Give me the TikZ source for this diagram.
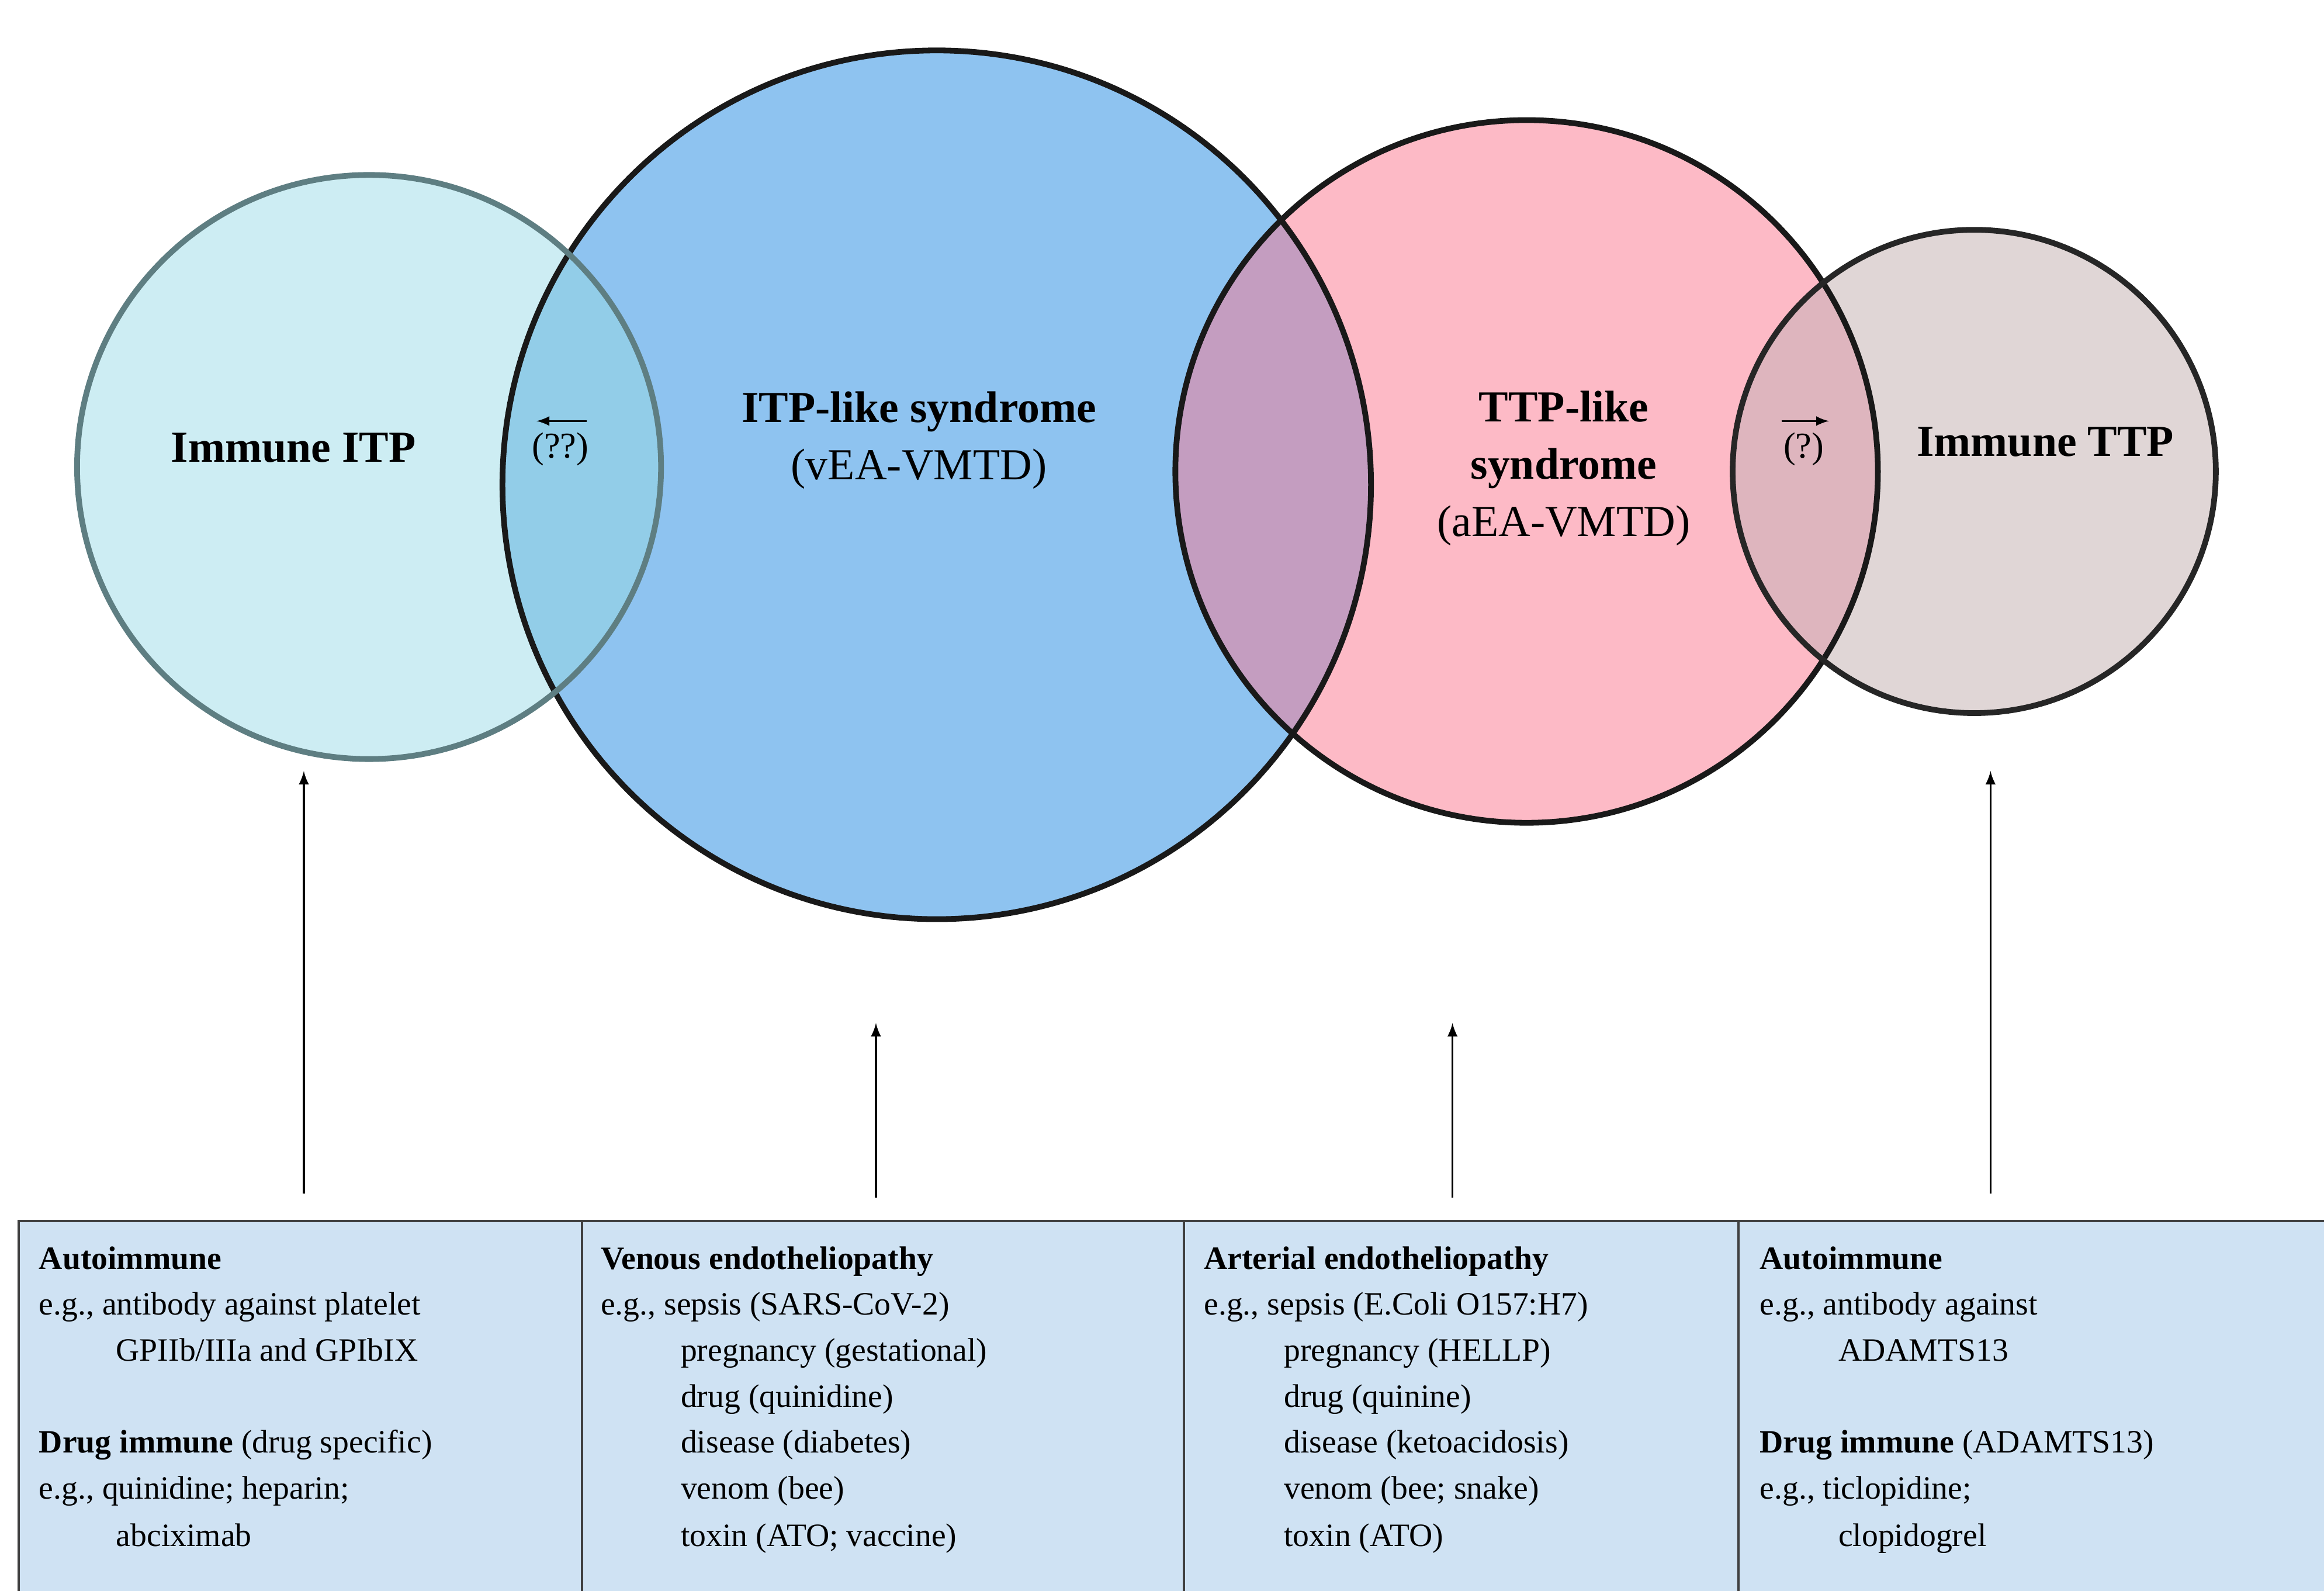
\documentclass[tikz,border=0pt]{standalone}
\usepackage{fontspec}
\setmainfont{Liberation Serif}
\begin{document}
\begin{tikzpicture}[x=0.02cm,y=-0.02cm,
  circ/.style={line width=2.2pt},
  box/.style={draw=black!75,line width=0.9pt,fill=boxc},
  t/.style={anchor=base west,inner sep=0pt,font=\fontsize{12.5}{15}\selectfont},
  lab/.style={align=center,font=\fontsize{17}{22}\selectfont},
  arr/.style={-latex,line width=0.8pt}]
\definecolor{itpc}{HTML}{CDEDF3}
\definecolor{itplc}{HTML}{8EC3F0}
\definecolor{ttplc}{HTML}{FDBAC6}
\definecolor{ittpc}{HTML}{E0D6D6}
\definecolor{ov1}{HTML}{92CDE8}
\definecolor{ov2}{HTML}{C49DC0}
\definecolor{ov3}{HTML}{DEB5BE}
\definecolor{boxc}{HTML}{CFE2F3}
\useasboundingbox (0,0) rectangle (1568,1073);
% circles fills
\fill[itpc] (249,315) circle (197);
\fill[itplc] (632,327) circle (293);
\fill[ttplc] (1030,318) circle (237);
\fill[ittpc] (1332,318) circle (163);
\begin{scope}\clip (249,315) circle (197); \fill[ov1] (632,327) circle (293);\end{scope}
\begin{scope}\clip (632,327) circle (293); \fill[ov2] (1030,318) circle (237);\end{scope}
\begin{scope}\clip (1030,318) circle (237); \fill[ov3] (1332,318) circle (163);\end{scope}
\draw[circ,draw=black!90] (632,327) circle (293);
\draw[circ,draw=black!90] (1030,318) circle (237);
\draw[circ,draw=black!85] (1332,318) circle (163);
\draw[circ,draw={rgb,255:red,94;green,126;blue,130}] (249,315) circle (197);
% labels
\node[lab] (itp) at (198,302) {\textbf{Immune ITP}};
\node[lab] (itpl) at (620,297) {\textbf{ITP-like syndrome}\\(vEA-VMTD)};
\node[lab] (ttpl) at (1055,316) {\textbf{TTP-like}\\\textbf{syndrome}\\(aEA-VMTD)};
\node[lab] (ittp) at (1380,298) {\textbf{Immune TTP}};
\node[font=\fontsize{14}{16}\selectfont] (q2) at (378,303) {(??)};
\node[font=\fontsize{14}{16}\selectfont] (q1) at (1217,303) {(?)};
\coordinate (a1s) at (396,284); \coordinate (a1e) at (362,284);
\coordinate (a2s) at (1202,284); \coordinate (a2e) at (1234,284);
\draw[-latex,line width=0.7pt] (a1s) -- (a1e);
\draw[-latex,line width=0.7pt] (a2s) -- (a2e);
% boxes
\node[box,minimum width=371,minimum height=234,anchor=north west,inner sep=0pt] (b1) at (12,823) {};
\node[box,minimum width=396,minimum height=234,anchor=north west,inner sep=0pt] (b2) at (392,823) {};
\node[box,minimum width=392,minimum height=234,anchor=north west,inner sep=0pt] (b3) at (798,823) {};
\node[box,minimum width=383,minimum height=234,anchor=north west,inner sep=0pt] (b4) at (1172,823) {};
% arrows
\coordinate (s1) at (205,805); \coordinate (e1) at (205,520);
\coordinate (s2) at (591,808); \coordinate (e2) at (591,690);
\coordinate (s3) at (980,808); \coordinate (e3) at (980,690);
\coordinate (s4) at (1343,805); \coordinate (e4) at (1343,520);
\draw[arr] (s1) -- (e1);
\draw[arr] (s2) -- (e2);
\draw[arr] (s3) -- (e3);
\draw[arr] (s4) -- (e4);
% box 1
\node[t] at (26,856) {\textbf{Autoimmune}};
\node[t] at (26,887) {e.g., antibody against platelet};
\node[t] at (78,918) {GPIIb/IIIa and GPIbIX};
\node[t] at (26,980) {\textbf{Drug immune} (drug specific)};
\node[t] at (26,1011) {e.g., quinidine; heparin;};
\node[t] at (78,1043) {abciximab};
% box 2
\node[t] at (405,856) {\textbf{Venous endotheliopathy}};
\node[t] at (405,887) {e.g., sepsis (SARS-CoV-2)};
\node[t] at (459,918) {pregnancy (gestational)};
\node[t] at (459,949) {drug (quinidine)};
\node[t] at (459,980) {disease (diabetes)};
\node[t] at (459,1011) {venom (bee)};
\node[t] at (459,1043) {toxin (ATO; vaccine)};
% box 3
\node[t] at (812,856) {\textbf{Arterial endotheliopathy}};
\node[t] at (812,887) {e.g., sepsis (E.Coli O157:H7)};
\node[t] at (866,918) {pregnancy (HELLP)};
\node[t] at (866,949) {drug (quinine)};
\node[t] at (866,980) {disease (ketoacidosis)};
\node[t] at (866,1011) {venom (bee; snake)};
\node[t] at (866,1043) {toxin (ATO)};
% box 4
\node[t] at (1187,856) {\textbf{Autoimmune}};
\node[t] at (1187,887) {e.g., antibody against};
\node[t] at (1240,918) {ADAMTS13};
\node[t] at (1187,980) {\textbf{Drug immune} (ADAMTS13)};
\node[t] at (1187,1011) {e.g., ticlopidine;};
\node[t] at (1240,1043) {clopidogrel};
\end{tikzpicture}
\end{document}
